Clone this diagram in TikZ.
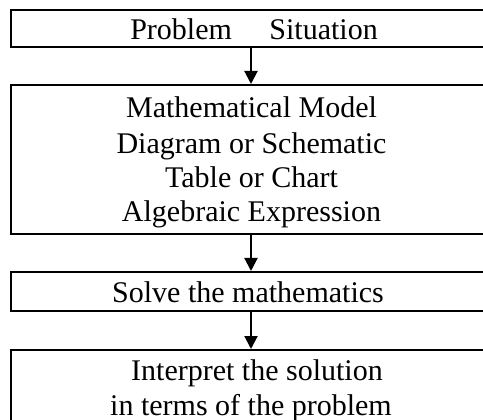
\documentclass[tikz,border=0pt]{standalone}
\usepackage{fontspec}
\setmainfont{Liberation Serif}
\usetikzlibrary{arrows.meta}
\begin{document}
\begin{tikzpicture}[x=1pt,y=-1pt,
  flowbox/.style={draw=black,line width=2pt,rectangle,inner sep=0pt,minimum width=480pt},
  txt/.style={anchor=base,inner sep=0pt,font=\fontsize{30}{34.5}\selectfont},
  flowarrow/.style={line width=2pt,-{Triangle[width=13pt,length=13pt]}}]
\useasboundingbox[fill=white] (0,0) rectangle (483,420);
\clip (0,0) rectangle (483,420);
\node[flowbox,minimum height=37pt] (b1) at (251,29) {};
\node[flowbox,minimum height=149pt] (b2) at (251,159.5) {};
\node[flowbox,minimum height=39pt] (b3) at (251,291.5) {};
\node[flowbox,minimum height=82pt] (b4) at (251,391) {};
\node[txt] (t1) at (254,40) {Problem\hspace{1em}\ Situation};
\node[txt] (m1) at (251.5,117.3) {Mathematical Model};
\node[txt] (m2) at (251.5,153.3) {Diagram or Schematic};
\node[txt] (m3) at (251.5,187.3) {Table or Chart};
\node[txt] (m4) at (251.5,221.7) {Algebraic Expression};
\node[txt] (s1) at (248,302) {Solve the mathematics};
\node[txt] (i1) at (257,380.5) {Interpret the solution};
\node[txt] (i2) at (251,415) {in terms of the problem};
\draw[flowarrow] (b1.south) -- (b2.north);
\draw[flowarrow] (b2.south) -- (b3.north);
\draw[flowarrow] (b3.south) -- (b4.north);
\end{tikzpicture}
\end{document}
